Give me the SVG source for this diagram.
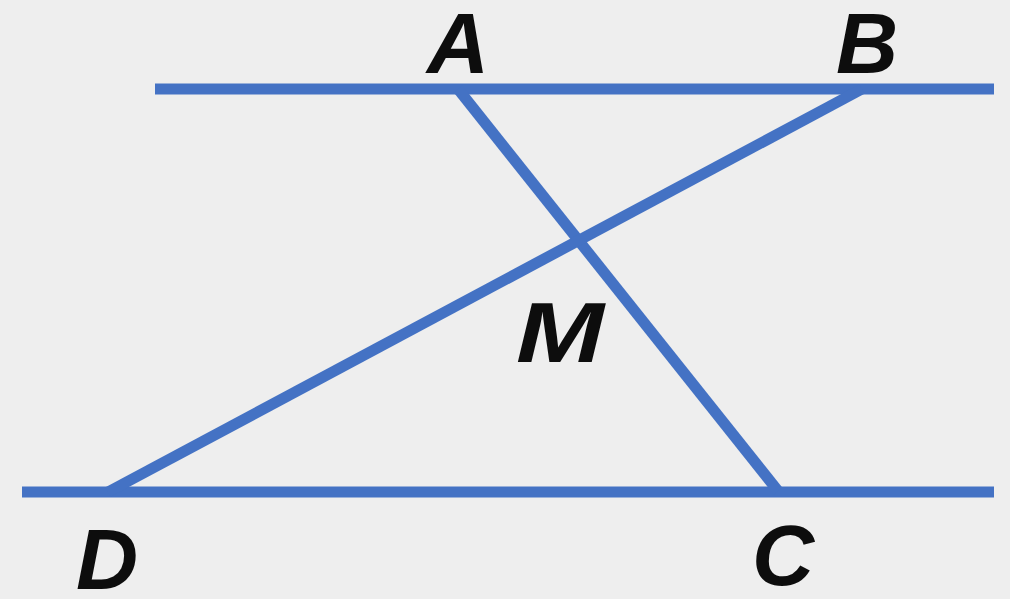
<svg xmlns="http://www.w3.org/2000/svg" width="1010" height="599" viewBox="0 0 1010 599">
<style>
.ln{stroke:#4472c4;stroke-width:11;fill:none;stroke-linecap:butt}
.lb{font-family:"Liberation Sans",Arial,sans-serif;font-weight:bold;font-style:italic;font-size:86px;fill:#0d0d0d}
</style>
<rect width="1010" height="599" fill="#eeeeee"/>
<g id="connectors">
<line class="ln" x1="155" y1="89" x2="994" y2="89"/>
<line class="ln" x1="22" y1="492" x2="994" y2="492"/>
<line class="ln" x1="458" y1="89" x2="778" y2="491"/>
<line class="ln" x1="862" y1="89" x2="108" y2="492"/>
</g>
<g id="A"><text class="lb" x="427" y="73">A</text></g>
<g id="B"><text class="lb" x="836" y="73">B</text></g>
<g id="M"><text class="lb" x="516" y="362" textLength="88" lengthAdjust="spacingAndGlyphs">M</text></g>
<g id="D"><text class="lb" x="76" y="589">D</text></g>
<g id="C"><text class="lb" x="752" y="585">C</text></g>
</svg>
